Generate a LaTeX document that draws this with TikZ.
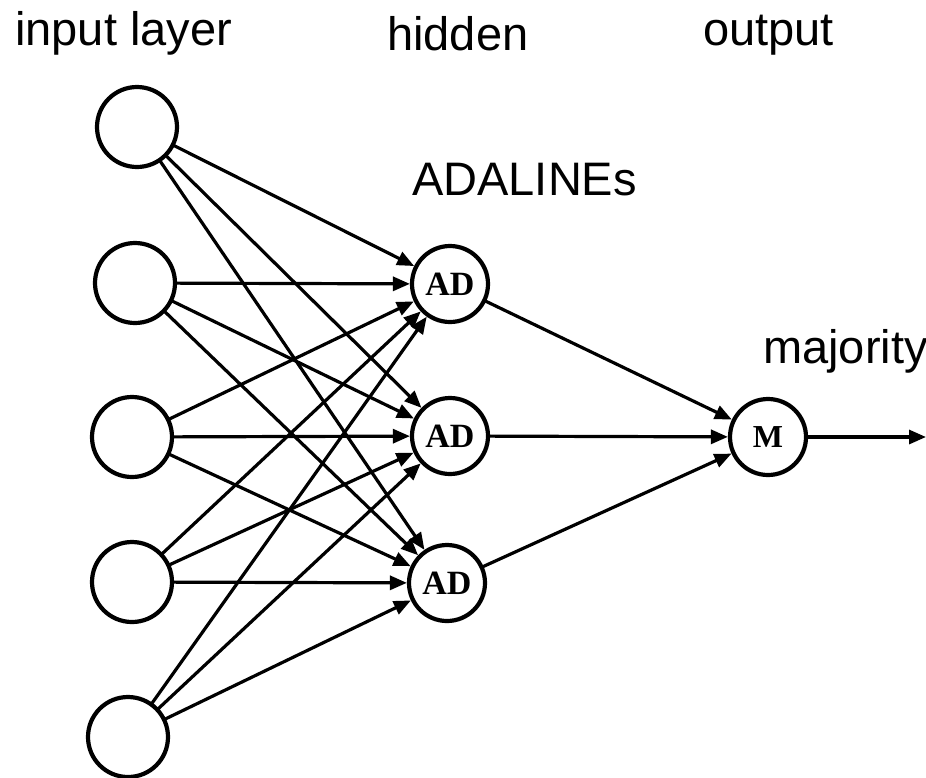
\documentclass[tikz,border=0pt]{standalone}
\usepackage{fontspec}
\setmainfont{Liberation Sans}
\newfontfamily\serifbold{Liberation Serif}
\usetikzlibrary{arrows.meta}
\begin{document}
\begin{tikzpicture}[x=1pt,y=-1pt,
  neuron/.style={circle,draw,line width=4.2pt,inner sep=0pt},
  inneuron/.style={neuron,minimum size=80pt},
  adneuron/.style={neuron,minimum size=76pt,font=\serifbold\bfseries\fontsize{34}{34}\selectfont},
  mneuron/.style={neuron,minimum size=76pt,font=\serifbold\bfseries\fontsize{32}{32}\selectfont},
  conn/.style={line width=3.2pt,-{Triangle[length=17pt,width=14pt]},shorten <=-1pt},
  lbl/.style={anchor=base west,inner sep=0pt,font=\fontsize{47}{47}\selectfont}]
\useasboundingbox (0,0) rectangle (926,777);
\clip (0,0) rectangle (926,777);
% input layer
\node[inneuron] (i1) at (137,127) {};
\node[inneuron] (i2) at (135,283) {};
\node[inneuron] (i3) at (132,437) {};
\node[inneuron] (i4) at (132,582) {};
\node[inneuron] (i5) at (128,737) {};
% hidden layer
\node[adneuron] (h1) at (450,284) {AD};
\node[adneuron] (h2) at (450,436) {AD};
\node[adneuron] (h3) at (447,583) {AD};
% output
\node[mneuron] (m) at (768,437) {M};
\coordinate (out) at (926,437);
% labels
\node[lbl] (t1) at (15,45) {input layer};
\node[lbl] (t2) at (387,50) {hidden};
\node[lbl] (t3) at (703,45) {output};
\node[lbl] (t4) at (412,195) {ADALINEs};
\node[lbl] (t5) at (763,363) {majority};
% connections
\foreach \i in {i1,i2,i3,i4,i5}{
  \foreach \h in {h1,h2,h3}{
    \draw[conn] (\i) -- (\h);
  }
}
\foreach \h in {h1,h2,h3}{
  \draw[conn] (\h) -- (m);
}
\draw[conn] (m) -- (out);
\end{tikzpicture}
\end{document}
